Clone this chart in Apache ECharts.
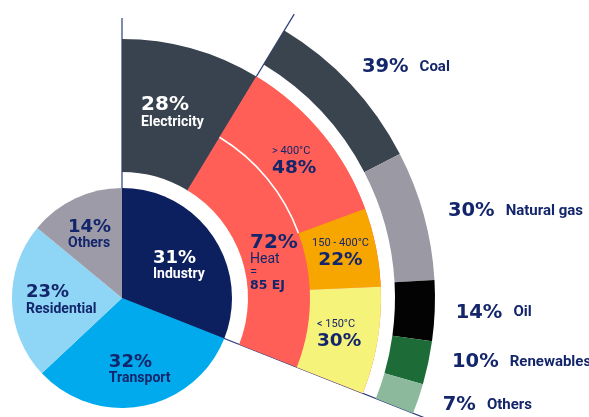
<!DOCTYPE html>
<html>
<head>
<meta charset="utf-8">
<script src="https://cdn.jsdelivr.net/npm/echarts@6/dist/echarts.min.js"></script>
<style>
  html, body { margin: 0; padding: 0; background: #ffffff; }
  #chart { width: 589px; height: 417px; }
</style>
</head>
<body>
<div id="chart"></div>
<script>
// Final energy use by sector, with industry split into electricity / heat,
// heat split by temperature level, and the fuels that supply that heat.
const sectorNames = ['Industry', 'Transport', 'Residential', 'Others'];
const sectorShares = [31, 32, 23, 14];

const industryNames = ['Electricity', 'Heat'];
const industryShares = [28, 72];
const heatTotalLabel = '85 EJ';

const heatNames = ['> 400°C', '150 - 400°C', '< 150°C'];
const heatShares = [48, 22, 30];

const fuelNames = ['Coal', 'Natural gas', 'Oil', 'Renewables', 'Others'];
const fuelShares = [39, 30, 14, 10, 7];

// ---- styling ----
const NAVY = '#14266b';
const WHITE = '#ffffff';
const sectorColors = ['#0c1f5e', '#00aaed', '#8fd5f6', '#9c9ba7'];
const industryColors = ['#38434f', '#ff5f56'];
const heatColors = ['#ff5f56', '#f7a600', '#f6f37b'];
const fuelColors = ['#39444f', '#9b9aa4', '#030303', '#1d6b37', '#8cb99b'];

const CX = 122, CY = 298;
const R_PIE = 110;
const R_FAN_IN = 126, R_FAN_OUT = 259;
const R_BAND_IN = 188;
const R_RING_IN = 273, R_RING_OUT = 313;

const PCT_FONT = 'DejaVu Sans';
const NAME_FONT = 'Roboto';

const total = arr => arr.reduce((s, v) => s + v, 0);

// angles in degrees, counter-clockwise from 3 o'clock (ECharts pie convention)
const industryStart = 90;
const industryEnd = industryStart - 360 * sectorShares[0] / total(sectorShares);
const heatStart = industryStart - (industryStart - industryEnd) * industryShares[0] / total(industryShares);
const heatSpan = heatStart - industryEnd;
const hotEnd = heatStart - heatSpan * heatShares[0] / total(heatShares);

// label nudges: [dx, dy, align]
const sectorShift = [[-17, 0, 'left'], [-24, 15, 'left'], [-38, 0.5, 'left'], [-29.3, -11, 'left']];
const industryShift = [[-33.6, 2.8, 'left'], [-57.3, 27.4, 'left']];
const heatShift = [[-24.8, 7, 'left'], [-3.6, 0, null], [-28.4, -1, 'left']];
const fuelShift = [[-1, -10.5], [9.5, -1], [6, 1.5], [9, -2.5], [10, 3]];

function shifter(table) {
  return function (params) {
    const s = table[params.dataIndex] || [0, 0];
    const out = { dx: s[0], dy: s[1] };
    if (s[2]) out.align = s[2];
    return out;
  };
}

function ray(angle, r0, r1) {
  const a = angle * Math.PI / 180;
  return {
    type: 'line', z: 0, silent: true,
    shape: {
      x1: CX + r0 * Math.cos(a), y1: CY - r0 * Math.sin(a),
      x2: CX + r1 * Math.cos(a), y2: CY - r1 * Math.sin(a)
    },
    style: { stroke: '#2b3c7e', lineWidth: 1.2 }
  };
}

function pct(size, color, lh) {
  return { fontFamily: PCT_FONT, fontWeight: 'bold', fontSize: size, lineHeight: lh, color: color, align: 'left' };
}
function txt(size, color, lh, weight) {
  return { fontFamily: NAME_FONT, fontWeight: weight || 'bold', fontSize: size, lineHeight: lh, color: color, align: 'left' };
}

const items = (names, values, colors) =>
  names.map((name, i) => ({ name: name, value: values[i], itemStyle: { color: colors[i] } }));

const chart = echarts.init(document.getElementById('chart'), null, { renderer: 'canvas' });

chart.setOption({
  animation: false,
  backgroundColor: '#ffffff',
  graphic: [
    ray(industryStart, 0, 280),
    ray(heatStart, R_FAN_IN, 332),
    ray(industryEnd, 0, 350)
  ],
  series: [
    {
      name: 'Sectors',
      type: 'pie',
      center: [CX, CY],
      radius: [0, R_PIE],
      startAngle: industryStart,
      avoidLabelOverlap: false,
      silent: true,
      data: items(sectorNames, sectorShares, sectorColors),
      label: {
        position: 'inside',
        formatter: p => p.dataIndex === 0
          ? `{pw|${p.value}%}\n{nw|${p.name}}`
          : `{p|${p.value}%}\n{n|${p.name}}`,
        rich: {
          p: pct(18, NAVY, 18), n: txt(14, NAVY, 15),
          pw: pct(18, WHITE, 18), nw: txt(14, WHITE, 15)
        }
      },
      labelLine: { show: false },
      labelLayout: shifter(sectorShift)
    },
    {
      name: 'Industry',
      type: 'pie',
      center: [CX, CY],
      radius: [R_FAN_IN, R_FAN_OUT],
      startAngle: industryStart,
      endAngle: industryEnd,
      avoidLabelOverlap: false,
      silent: true,
      data: items(industryNames, industryShares, industryColors),
      label: {
        position: 'inside',
        formatter: p => p.dataIndex === 0
          ? `{pw|${p.value}%}\n{nw|${p.name}}`
          : `{q|${p.value}%}\n{h|${p.name}}\n{eq|=}\n{e|${heatTotalLabel}}`,
        rich: {
          pw: pct(20, WHITE, 20), nw: txt(14, WHITE, 15),
          q: pct(20, NAVY, 19), h: txt(14, NAVY, 15, 'normal'),
          eq: txt(13, NAVY, 12, 'normal'), e: pct(12.5, NAVY, 14)
        }
      },
      labelLine: { show: false },
      labelLayout: shifter(industryShift)
    },
    {
      name: 'Heat by temperature',
      type: 'pie',
      center: [CX, CY],
      radius: [R_BAND_IN, R_FAN_OUT],
      startAngle: heatStart,
      endAngle: industryEnd,
      avoidLabelOverlap: false,
      silent: true,
      data: items(heatNames, heatShares, heatColors),
      label: {
        position: 'inside',
        formatter: p => p.dataIndex === 1
          ? `{tc|${p.name}}\n{pc|${p.value}%}`
          : `{t|${p.name}}\n{p|${p.value}%}`,
        rich: {
          t: txt(11, NAVY, 14, 'normal'), p: pct(18.5, NAVY, 20),
          tc: Object.assign(txt(11, NAVY, 14, 'normal'), { align: 'center' }),
          pc: Object.assign(pct(18.5, NAVY, 20), { align: 'center' })
        }
      },
      labelLine: { show: false },
      labelLayout: shifter(heatShift)
    },
    {
      // thin white seam between the heat core and the > 400°C band
      name: 'Seam',
      type: 'pie',
      center: [CX, CY],
      radius: [R_BAND_IN - 0.8, R_BAND_IN + 0.8],
      startAngle: heatStart,
      endAngle: hotEnd,
      silent: true,
      data: [{ name: heatNames[0], value: heatShares[0], itemStyle: { color: WHITE } }],
      label: { show: false },
      labelLine: { show: false }
    },
    {
      name: 'Heat fuel mix',
      type: 'pie',
      center: [CX, CY],
      radius: [R_RING_IN, R_RING_OUT],
      startAngle: heatStart,
      endAngle: industryEnd,
      avoidLabelOverlap: false,
      silent: true,
      data: items(fuelNames, fuelShares, fuelColors),
      label: {
        position: 'outside',
        overflow: 'none',
        formatter: p => `{p|${p.value}%}{n|${p.name}}`,
        rich: {
          p: Object.assign(pct(19.5, NAVY, 22), { padding: [0, 11, 0, 0] }),
          n: txt(15, NAVY, 22)
        }
      },
      labelLine: { show: false, length: 10, length2: 0 },
      labelLayout: shifter(fuelShift)
    }
  ]
});
</script>
</body>
</html>
